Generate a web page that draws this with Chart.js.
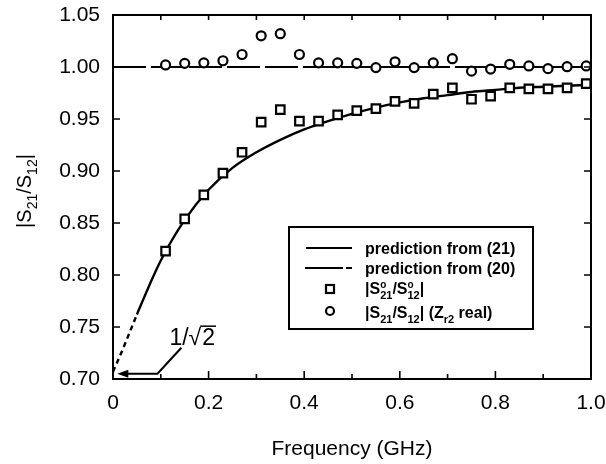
<!DOCTYPE html>
<html><head><meta charset="utf-8">
<script src="https://cdn.jsdelivr.net/npm/chart.js@4.4.0/dist/chart.umd.min.js"></script>
<style>html,body{margin:0;padding:0;background:#fff}#wrap{width:606px;height:464px}</style>
</head><body><div id="wrap"><canvas id="c" width="606" height="464"></canvas></div>
<script>
// ---- data ----
const freqs = [0.11,0.15,0.19,0.23,0.27,0.31,0.35,0.39,0.43,0.47,0.51,0.55,0.59,0.63,0.67,0.71,0.75,0.79,0.83,0.87,0.91,0.95,0.99];
const squareValues = [0.823,0.854,0.877,0.898,0.918,0.947,0.959,0.948,0.948,0.954,0.958,0.960,0.967,0.965,0.974,0.980,0.969,0.972,0.980,0.979,0.979,0.980,0.984];
const circleValues = [1.002,1.0035,1.004,1.006,1.012,1.030,1.032,1.012,1.004,1.004,1.0035,0.9994,1.005,0.9994,1.004,1.008,0.996,0.998,1.0026,1.001,0.9984,1.0003,1.001];
const pred21Freqs = [0,0.02,0.05,0.075,0.10,0.15,0.20,0.25,0.30,0.35,0.40,0.45,0.50,0.55,0.60,0.65,0.70,0.75,0.80,0.85,0.90,0.95,1.00];
const pred21Values = [0.707,0.728,0.762,0.789,0.814,0.853,0.882,0.903,0.918,0.930,0.940,0.948,0.955,0.961,0.966,0.970,0.973,0.976,0.978,0.980,0.981,0.982,0.983];
const pred20Freqs = [0,1];
const pred20Values = [1,1];
const xTickValues = [0,0.2,0.4,0.6,0.8,1.0];
const xTickLabels = ['0','0.2','0.4','0.6','0.8','1.0'];
const xMinorTicks = [0.1,0.3,0.5,0.7,0.9];
const yTickValues = [0.70,0.75,0.80,0.85,0.90,0.95,1.00,1.05];
const yTickLabels = ['0.70','0.75','0.80','0.85','0.90','0.95','1.00','1.05'];
const dashedLimit = 0.05;

const FONT = "'Liberation Sans', Arial, sans-serif";
const pts = (xs, ys) => xs.map((x, i) => ({x, y: ys[i]}));
const pred21All = pts(pred21Freqs, pred21Values);
const pred21Dashed = pred21All.filter(p => p.x <= dashedLimit);
const pred21Solid = pred21All.filter(p => p.x >= dashedLimit);

function drawRich(ctx, x, y, parts, size) {
  let cx = x;
  const bold = ctx.font.startsWith('bold') ? 'bold ' : '';
  for (const p of parts) {
    if (p.sub || p.sup) {
      let w = 0;
      if (p.sub) {
        ctx.font = bold + Math.round(size * 0.7) + 'px ' + FONT;
        ctx.fillText(p.sub, cx, y + size * 0.3);
        w = ctx.measureText(p.sub).width;
      }
      if (p.sup) {
        ctx.font = bold + Math.round(size * 0.6) + 'px ' + FONT;
        ctx.fillText(p.sup, cx, y - size * 0.38);
        w = Math.max(w, ctx.measureText(p.sup).width);
      }
      cx += w;
    } else {
      ctx.font = bold + size + 'px ' + FONT;
      ctx.fillText(p.t, cx, y);
      cx += ctx.measureText(p.t).width;
    }
  }
  ctx.font = bold + size + 'px ' + FONT;
  return cx - x;
}
function richWidth(ctx, parts, size) {
  ctx.save();
  ctx.globalAlpha = 0;
  const w = drawRich(ctx, 0, 0, parts, size);
  ctx.restore();
  return w;
}

const decor = {
  id: 'decor',
  afterDraw(chart) {
    const ctx = chart.ctx;
    const {left, right, top, bottom} = chart.chartArea;
    const xs = chart.scales.x, ys = chart.scales.y;
    ctx.save();
    ctx.strokeStyle = '#000';
    ctx.fillStyle = '#000';
    ctx.lineWidth = 2;
    ctx.strokeRect(left, top, right - left, bottom - top);
    ctx.lineWidth = 1.6;
    ctx.beginPath();
    xTickValues.concat(xMinorTicks).forEach(v => {
      if (v <= 0 || v >= 1) return;
      const px = xs.getPixelForValue(v);
      const major = xTickValues.includes(v);
      ctx.moveTo(px, bottom); ctx.lineTo(px, bottom - (major ? 8 : 5));
      ctx.moveTo(px, top); ctx.lineTo(px, top + 5);
    });
    yTickValues.forEach(v => {
      const py = ys.getPixelForValue(v);
      if (Math.abs(py - top) < 1 || Math.abs(py - bottom) < 1) return;
      ctx.moveTo(left, py); ctx.lineTo(left + 7, py);
      ctx.moveTo(right, py); ctx.lineTo(right - 7, py);
    });
    ctx.stroke();

    // y axis title
    ctx.save();
    const yParts = [{t:'|S'},{sub:'21'},{t:'/S'},{sub:'12'},{t:'|'}];
    ctx.font = '20px ' + FONT;
    const tw = richWidth(ctx, yParts, 20);
    ctx.translate(31, (top + bottom) / 2 - 6);
    ctx.rotate(-Math.PI / 2);
    ctx.textBaseline = 'alphabetic';
    drawRich(ctx, -tw / 2, 0, yParts, 20);
    ctx.restore();

    // annotation 1/sqrt2 with arrow
    const P = (fx, fy) => [xs.getPixelForValue(fx), ys.getPixelForValue(fy)];
    const tip = P(0.009, 0.705), corner = P(0.093, 0.705), end = P(0.143, 0.730);
    ctx.lineWidth = 2;
    ctx.beginPath();
    ctx.moveTo(end[0], end[1]); ctx.lineTo(corner[0], corner[1]); ctx.lineTo(tip[0] + 4, tip[1]);
    ctx.stroke();
    ctx.beginPath();
    ctx.moveTo(tip[0], tip[1]);
    ctx.lineTo(tip[0] + 11, tip[1] - 4);
    ctx.lineTo(tip[0] + 11, tip[1] + 4);
    ctx.closePath();
    ctx.fill();
    const tp = P(0.118, 0.733);
    ctx.font = '23px ' + FONT;
    ctx.textBaseline = 'alphabetic';
    ctx.fillText('1/\u221A', tp[0], tp[1]);
    const w1 = ctx.measureText('1/\u221A').width;
    ctx.fillText('2', tp[0] + w1 + 1, tp[1]);
    const w2 = ctx.measureText('2').width;
    ctx.lineWidth = 1.5;
    ctx.beginPath();
    ctx.moveTo(tp[0] + w1 - 1, tp[1] - 18.5);
    ctx.lineTo(tp[0] + w1 + w2 + 2, tp[1] - 18.5);
    ctx.stroke();

    // legend
    const bx = 289, by = 227, bw = 244, bh = 102;
    ctx.fillStyle = '#fff';
    ctx.fillRect(bx, by, bw, bh);
    ctx.lineWidth = 2;
    ctx.strokeRect(bx, by, bw, bh);
    ctx.fillStyle = '#000';
    ctx.lineWidth = 2.2;
    ctx.beginPath(); ctx.moveTo(306, 248); ctx.lineTo(352, 248); ctx.stroke();
    ctx.beginPath(); ctx.moveTo(305, 268); ctx.lineTo(343, 268); ctx.moveTo(346, 268); ctx.lineTo(352, 268); ctx.stroke();
    ctx.lineWidth = 2.2;
    ctx.strokeRect(326, 285, 8, 8);
    ctx.beginPath(); ctx.arc(330, 311, 4, 0, Math.PI * 2); ctx.stroke();
    ctx.font = 'bold 16px ' + FONT;
    ctx.textBaseline = 'alphabetic';
    ctx.fillText('prediction from (21)', 365, 254);
    ctx.fillText('prediction from (20)', 365, 274);
    drawRich(ctx, 365, 294, [{t:'|S'},{sub:'21',sup:'o'},{t:'/S'},{sub:'12',sup:'o'},{t:'|'}], 16);
    ctx.font = 'bold 16px ' + FONT;
    drawRich(ctx, 365, 318, [{t:'|S'},{sub:'21'},{t:'/S'},{sub:'12'},{t:'| (Z'},{sub:'r2'},{t:' real)'}], 16);
    ctx.restore();
  }
};

new Chart(document.getElementById('c'), {
  type: 'scatter',
  data: {
    datasets: [
      {label: 'circles', data: pts(freqs, circleValues), pointStyle: 'circle', pointRadius: 4.5, borderWidth: 2.2,
       borderColor: '#000', backgroundColor: '#fff', pointBackgroundColor: '#fff', order: 0},
      {label: 'squares', data: pts(freqs, squareValues), pointStyle: 'rect', pointRadius: 6, borderWidth: 2.2,
       borderColor: '#000', backgroundColor: '#fff', pointBackgroundColor: '#fff', order: 1},
      {label: 'prediction from (21)', data: pred21Solid, showLine: true, pointRadius: 0, borderColor: '#000',
       borderWidth: 2.4, cubicInterpolationMode: 'monotone', order: 2},
      {label: 'prediction (21) extrapolated', data: pred21Dashed, showLine: true, pointRadius: 0, borderColor: '#000',
       borderWidth: 2.4, borderDash: [5, 4], order: 3},
      {label: 'prediction from (20)', data: pts(pred20Freqs, pred20Values), showLine: true, pointRadius: 0,
       borderColor: '#000', borderWidth: 2, borderDash: [33, 5], order: 4}
    ]
  },
  options: {
    responsive: false,
    animation: false,
    events: [],
    layout: {padding: {top: 15, right: 15, left: 0, bottom: 0}},
    plugins: {legend: {display: false}, tooltip: {enabled: false}},
    scales: {
      x: {
        type: 'linear', min: 0, max: 1,
        grid: {display: false, drawTicks: false}, border: {display: false},
        afterBuildTicks: s => { s.ticks = xTickValues.map(v => ({value: v})); },
        afterFit: s => { s.height = 85; s.paddingRight = 0; s.paddingLeft = 0; },
        ticks: {color: '#000', padding: 12, font: {family: FONT, size: 21},
          callback: v => { const i = xTickValues.findIndex(t => Math.abs(t - v) < 1e-9); return i >= 0 ? xTickLabels[i] : ''; }},
        title: {display: true, text: 'Frequency (GHz)', color: '#000', font: {family: FONT, size: 21}, padding: {top: 0, bottom: 2}}
      },
      y: {
        type: 'linear', min: 0.70, max: 1.05,
        grid: {display: false, drawTicks: false}, border: {display: false},
        afterBuildTicks: s => { s.ticks = yTickValues.map(v => ({value: v})); },
        afterFit: s => { s.width = 113; s.paddingTop = 0; s.paddingBottom = 0; },
        ticks: {color: '#000', padding: 13, font: {family: FONT, size: 21},
          callback: v => { const i = yTickValues.findIndex(t => Math.abs(t - v) < 1e-9); return i >= 0 ? yTickLabels[i] : ''; }}
      }
    }
  },
  plugins: [decor]
});
</script></body></html>
